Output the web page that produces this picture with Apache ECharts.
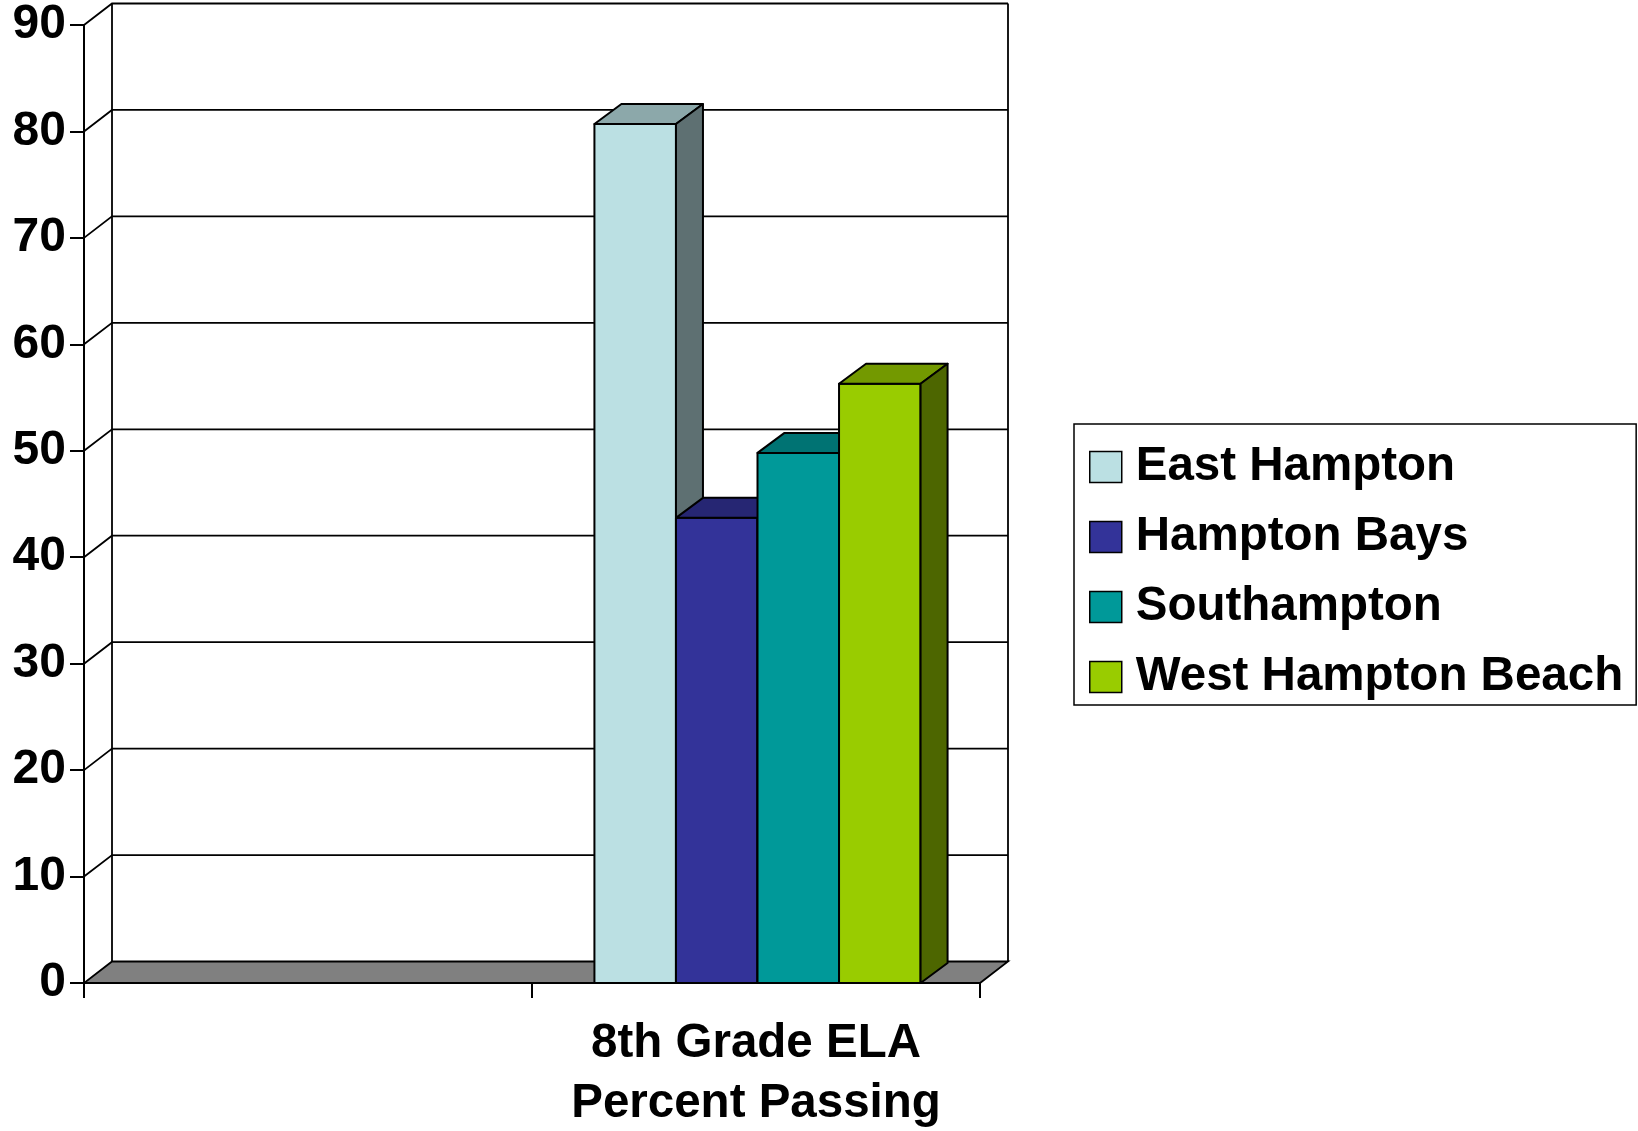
<!DOCTYPE html>
<html>
<head>
<meta charset="utf-8">
<title>8th Grade ELA Percent Passing</title>
<script src="https://cdn.jsdelivr.net/npm/echarts@6/dist/echarts.min.js"></script>
<style>
  html, body { margin: 0; padding: 0; background: #ffffff; }
  #chart { width: 1638px; height: 1131px; }
</style>
</head>
<body>
<div id="chart"></div>
<script>
// Category axis: an empty leading slot, then the measured group
const categories = ['', '8th Grade ELA\nPercent Passing'];

// Value axis ticks
const yTicks = [0, 10, 20, 30, 40, 50, 60, 70, 80, 90];

// Percent passing per district (first slot is empty)
const districtNames = ['East Hampton', 'Hampton Bays', 'Southampton', 'West Hampton Beach'];
const eastHampton = [null, 80.7];
const hamptonBays = [null, 43.7];
const southampton = [null, 49.8];
const westHamptonBeach = [null, 56.3];

// Face colours: front, top, side
const palettes = [
  ['#BBE0E3', '#8CA8AA', '#5E7072'],
  ['#333399', '#262673', '#1A1A4D'],
  ['#009999', '#007373', '#004D4D'],
  ['#99CC00', '#739900', '#4D6600']
];

// Depth of the pseudo-3D box (pixels)
const WALL_DX = 28, WALL_DY = 21.5;
const BAR_DX = 27, BAR_DY = 20;
const BAR_RATIO = 0.182;
const FONT = '"Liberation Sans", Arial, Helvetica, sans-serif';

const chart = echarts.init(document.getElementById('chart'), null, { renderer: 'canvas' });

// Back wall, left-wall diagonals, gridlines and the grey floor
function renderWalls(params, api) {
  const cs = params.coordSys;
  const v = api.value(1);
  const y = api.coord([0, v])[1];
  const xl = cs.x, xr = cs.x + cs.width;
  const line = { stroke: '#000', lineWidth: 1.8, fill: null };
  if (v === 0) {
    const topY = cs.y;
    return {
      type: 'group',
      children: [
        { type: 'polygon', z2: 1,
          shape: { points: [[xl, y], [xr, y], [xr + WALL_DX, y - WALL_DY], [xl + WALL_DX, y - WALL_DY]] },
          style: { fill: '#808080', stroke: '#000', lineWidth: 1.8 } },
        { type: 'line', shape: { x1: xl + WALL_DX, y1: y - WALL_DY, x2: xl + WALL_DX, y2: topY - WALL_DY }, style: line },
        { type: 'line', shape: { x1: xr + WALL_DX, y1: y - WALL_DY, x2: xr + WALL_DX, y2: topY - WALL_DY }, style: line }
      ]
    };
  }
  return {
    type: 'polyline',
    shape: { points: [[xl, y], [xl + WALL_DX, y - WALL_DY], [xr + WALL_DX, y - WALL_DY]] },
    style: line
  };
}

// One prism per district: front face, top face and right side face
function makeBarRenderer(k) {
  const [front, top, side] = palettes[k];
  return function (params, api) {
    const cat = api.value(0), val = api.value(1);
    const base = api.coord([cat, 0]);
    const peak = api.coord([cat, val]);
    const band = api.size([1, 0])[0];
    const bw = band * BAR_RATIO;
    const x0 = base[0] + (k - 2) * bw + 1.5;
    const x1 = x0 + bw;
    const yb = base[1], yt = peak[1];
    const edge = { stroke: '#000', lineWidth: 2, lineJoin: 'round' };
    return {
      type: 'group',
      children: [
        { type: 'polygon', shape: { points: [[x0, yb], [x1, yb], [x1, yt], [x0, yt]] },
          style: Object.assign({ fill: front }, edge) },
        { type: 'polygon', shape: { points: [[x0, yt], [x1, yt], [x1 + BAR_DX, yt - BAR_DY], [x0 + BAR_DX, yt - BAR_DY]] },
          style: Object.assign({ fill: top }, edge) },
        { type: 'polygon', shape: { points: [[x1, yb], [x1 + BAR_DX, yb - BAR_DY], [x1 + BAR_DX, yt - BAR_DY], [x1, yt]] },
          style: Object.assign({ fill: side }, edge) }
      ]
    };
  };
}

const districtValues = [eastHampton, hamptonBays, southampton, westHamptonBeach];

const barSeries = districtNames.map((name, k) => ({
  type: 'custom',
  name: name,
  z: 3 + k,
  itemStyle: { color: palettes[k][0] },
  renderItem: makeBarRenderer(k),
  encode: { x: 0, y: 1 },
  data: districtValues[k].map((v, i) => [i, v]).filter(d => d[1] != null)
}));

const option = {
  backgroundColor: '#ffffff',
  animation: false,
  textStyle: { fontFamily: FONT },
  grid: { left: 84, right: 658, top: 25, bottom: 148, containLabel: false, outerBoundsMode: 'none' },
  xAxis: {
    type: 'category',
    data: categories,
    boundaryGap: true,
    axisLine: { show: true, lineStyle: { color: '#000', width: 2 } },
    axisTick: { show: true, length: 15, lineStyle: { color: '#000', width: 2 } },
    axisLabel: {
      color: '#000', fontSize: 47.5, fontWeight: 'bold', fontFamily: FONT,
      lineHeight: 60, margin: 31, interval: 0
    },
    splitLine: { show: false },
    z: 10
  },
  yAxis: {
    type: 'value',
    min: 0, max: 90, interval: 10,
    axisLine: { show: true, lineStyle: { color: '#000', width: 2 } },
    axisTick: { show: true, length: 14, lineStyle: { color: '#000', width: 2 } },
    axisLabel: {
      color: '#000', fontSize: 48, fontWeight: 'bold', fontFamily: FONT, margin: 18,
      lineHeight: 48, verticalAlign: 'middle',
      customValues: yTicks
    },
    splitLine: { show: false },
    z: 10
  },
  legend: {
    data: districtNames,
    orient: 'vertical',
    left: 1074, top: 424,
    padding: [18, 13, 3, 15],
    itemGap: 20,
    itemWidth: 32, itemHeight: 31,
    icon: 'rect',
    borderColor: '#000', borderWidth: 1.5,
    itemStyle: { borderColor: '#000', borderWidth: 1.5 },
    textStyle: {
      color: '#000', fontSize: 47.5, fontWeight: 'bold', fontFamily: FONT,
      lineHeight: 50, padding: [0, 0, 0, 9]
    },
    selectedMode: false
  },
  series: [
    {
      type: 'custom',
      name: 'walls',
      z: 1,
      silent: true,
      renderItem: renderWalls,
      encode: { x: 0, y: 1 },
      data: yTicks.map(v => [0, v])
    }
  ].concat(barSeries)
};

chart.setOption(option);
</script>
</body>
</html>
